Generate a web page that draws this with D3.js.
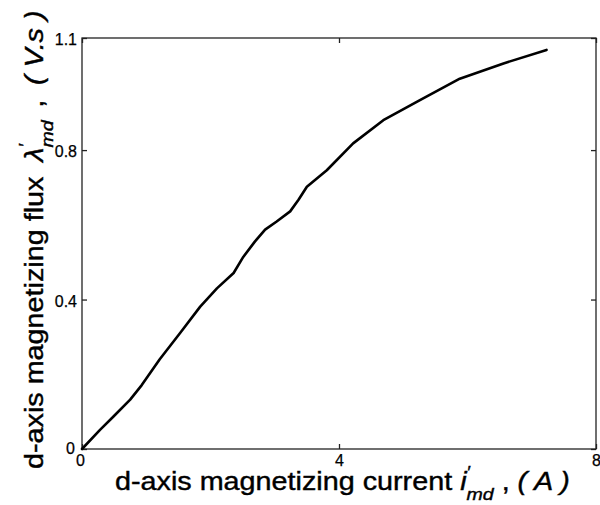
<!DOCTYPE html>
<html>
<head>
<meta charset="utf-8">
<script src="https://cdn.jsdelivr.net/npm/d3@7"></script>
<style>
  html, body { margin: 0; padding: 0; background: #fff; }
  svg { display: block; }
  text { font-family: "Liberation Sans", Arial, Helvetica, sans-serif; fill: #000; }
</style>
</head>
<body>
<svg id="chart" width="600" height="505"></svg>
<script>
// Magnetizing characteristic: d-axis current (A) vs. d-axis flux linkage (V.s)
const current = [0, 0.28, 0.49, 0.75, 0.93, 1.21, 1.53, 1.84, 2.10, 2.36, 2.51, 2.69, 2.85,
                 3.03, 3.24, 3.37, 3.50, 3.81, 4.22, 4.69, 5.26, 5.88, 6.56, 7.23];
const flux    = [0, 0.051, 0.087, 0.132, 0.171, 0.240, 0.311, 0.381, 0.430, 0.471, 0.514, 0.555, 0.587,
                 0.609, 0.636, 0.667, 0.702, 0.746, 0.818, 0.880, 0.934, 0.991, 1.032, 1.068];
const xTicks = [0, 4, 8];
const yTicks = [0, 0.4, 0.8, 1.1];
const xTickLabels = ["0", "4", "8"];
const yTickLabels = ["0", "0.4", "0.8", "1.1"];

const svg = d3.select("#chart");
const plot = { left: 82, right: 596, top: 38, bottom: 449 };

const x = d3.scaleLinear().domain([0, 8]).range([plot.left, plot.right]);
const y = d3.scaleLinear().domain([0, 1.1]).range([plot.bottom, plot.top]);

const tickLen = 5;
const titleStretch = 1.15;   // titles are set in a wide sans face

function styleAxis(g) {
  g.select(".domain").remove();
  g.selectAll(".tick line").attr("stroke", "#222").attr("stroke-width", 1.3);
  g.selectAll(".tick text")
    .attr("font-size", 16)
    .attr("font-family", "'Liberation Sans', Arial, sans-serif")
    .attr("fill", "#000")
    .attr("stroke", "#000").attr("stroke-width", 0.25);
}

// bottom axis with labels
svg.append("g")
  .attr("transform", `translate(0,${plot.bottom})`)
  .call(d3.axisBottom(x).tickValues(xTicks)
        .tickFormat((d, i) => xTickLabels[i])
        .tickSize(-tickLen).tickPadding(5))
  .call(styleAxis)
  .call(g => g.selectAll(".tick text").attr("dy", "0.72em"))
  .call(g => g.selectAll(".tick").filter(d => d === 0).select("text").attr("dx", -2));

// left axis with labels
svg.append("g")
  .attr("transform", `translate(${plot.left},0)`)
  .call(d3.axisLeft(y).tickValues(yTicks)
        .tickFormat((d, i) => yTickLabels[i])
        .tickSize(-tickLen).tickPadding(5))
  .call(styleAxis)
  .call(g => g.selectAll(".tick text").attr("dy", "0.42em"))
  .call(g => g.selectAll(".tick").filter(d => d === 0).select("text").attr("dx", -2).attr("dy", "0.3em"));

// mirrored ticks on the top and right edges
svg.append("g")
  .attr("transform", `translate(0,${plot.top})`)
  .call(d3.axisTop(x).tickValues(xTicks).tickFormat("").tickSize(-tickLen))
  .call(styleAxis);
svg.append("g")
  .attr("transform", `translate(${plot.right},0)`)
  .call(d3.axisRight(y).tickValues(yTicks).tickFormat("").tickSize(-tickLen))
  .call(styleAxis);

// plot frame
svg.append("rect")
  .attr("x", plot.left).attr("y", plot.top)
  .attr("width", plot.right - plot.left).attr("height", plot.bottom - plot.top)
  .attr("fill", "none").attr("stroke", "#222").attr("stroke-width", 1.3);

// magnetizing curve
const pts = current.map((c, i) => [c, flux[i]]);
svg.append("path")
  .datum(pts)
  .attr("fill", "none")
  .attr("stroke", "#000")
  .attr("stroke-width", 2.6)
  .attr("stroke-linejoin", "round")
  .attr("stroke-linecap", "round")
  .attr("d", d3.line().x(d => x(d[0])).y(d => y(d[1])));

// x-axis title
const xt = svg.append("text")
  .attr("transform", `translate(115,490) scale(${titleStretch},1)`)
  .attr("font-size", 25)
  .attr("stroke", "#000").attr("stroke-width", 0.4);
xt.append("tspan").text("d-axis magnetizing current ");
xt.append("tspan").attr("font-style", "italic").text("i");
xt.append("tspan").attr("font-size", 16).attr("font-style", "italic").attr("dx", 0).attr("dy", -12).text("′");
xt.append("tspan").attr("font-size", 17).attr("font-style", "italic").attr("dx", -3).attr("dy", 22).text("md");
xt.append("tspan").attr("dy", -10).text(" , ");
xt.append("tspan").attr("font-style", "italic").text("( A )");

// y-axis title
const yt = svg.append("text")
  .attr("transform", `translate(43,469) rotate(-90) scale(${titleStretch},1)`)
  .attr("font-size", 25)
  .attr("stroke", "#000").attr("stroke-width", 0.4);
yt.append("tspan").text("d-axis magnetizing flux ");
yt.append("tspan").attr("font-style", "italic").attr("dx", 6).text("λ");
yt.append("tspan").attr("font-size", 16).attr("font-style", "italic").attr("dx", 0).attr("dy", -12).text("′");
yt.append("tspan").attr("font-size", 17).attr("font-style", "italic").attr("dx", -3).attr("dy", 22).text("md");
yt.append("tspan").attr("dy", -10).attr("dx", 4).text(" , ");
yt.append("tspan").attr("font-style", "italic").attr("dx", 6).text("( V.s )");
</script>
</body>
</html>
